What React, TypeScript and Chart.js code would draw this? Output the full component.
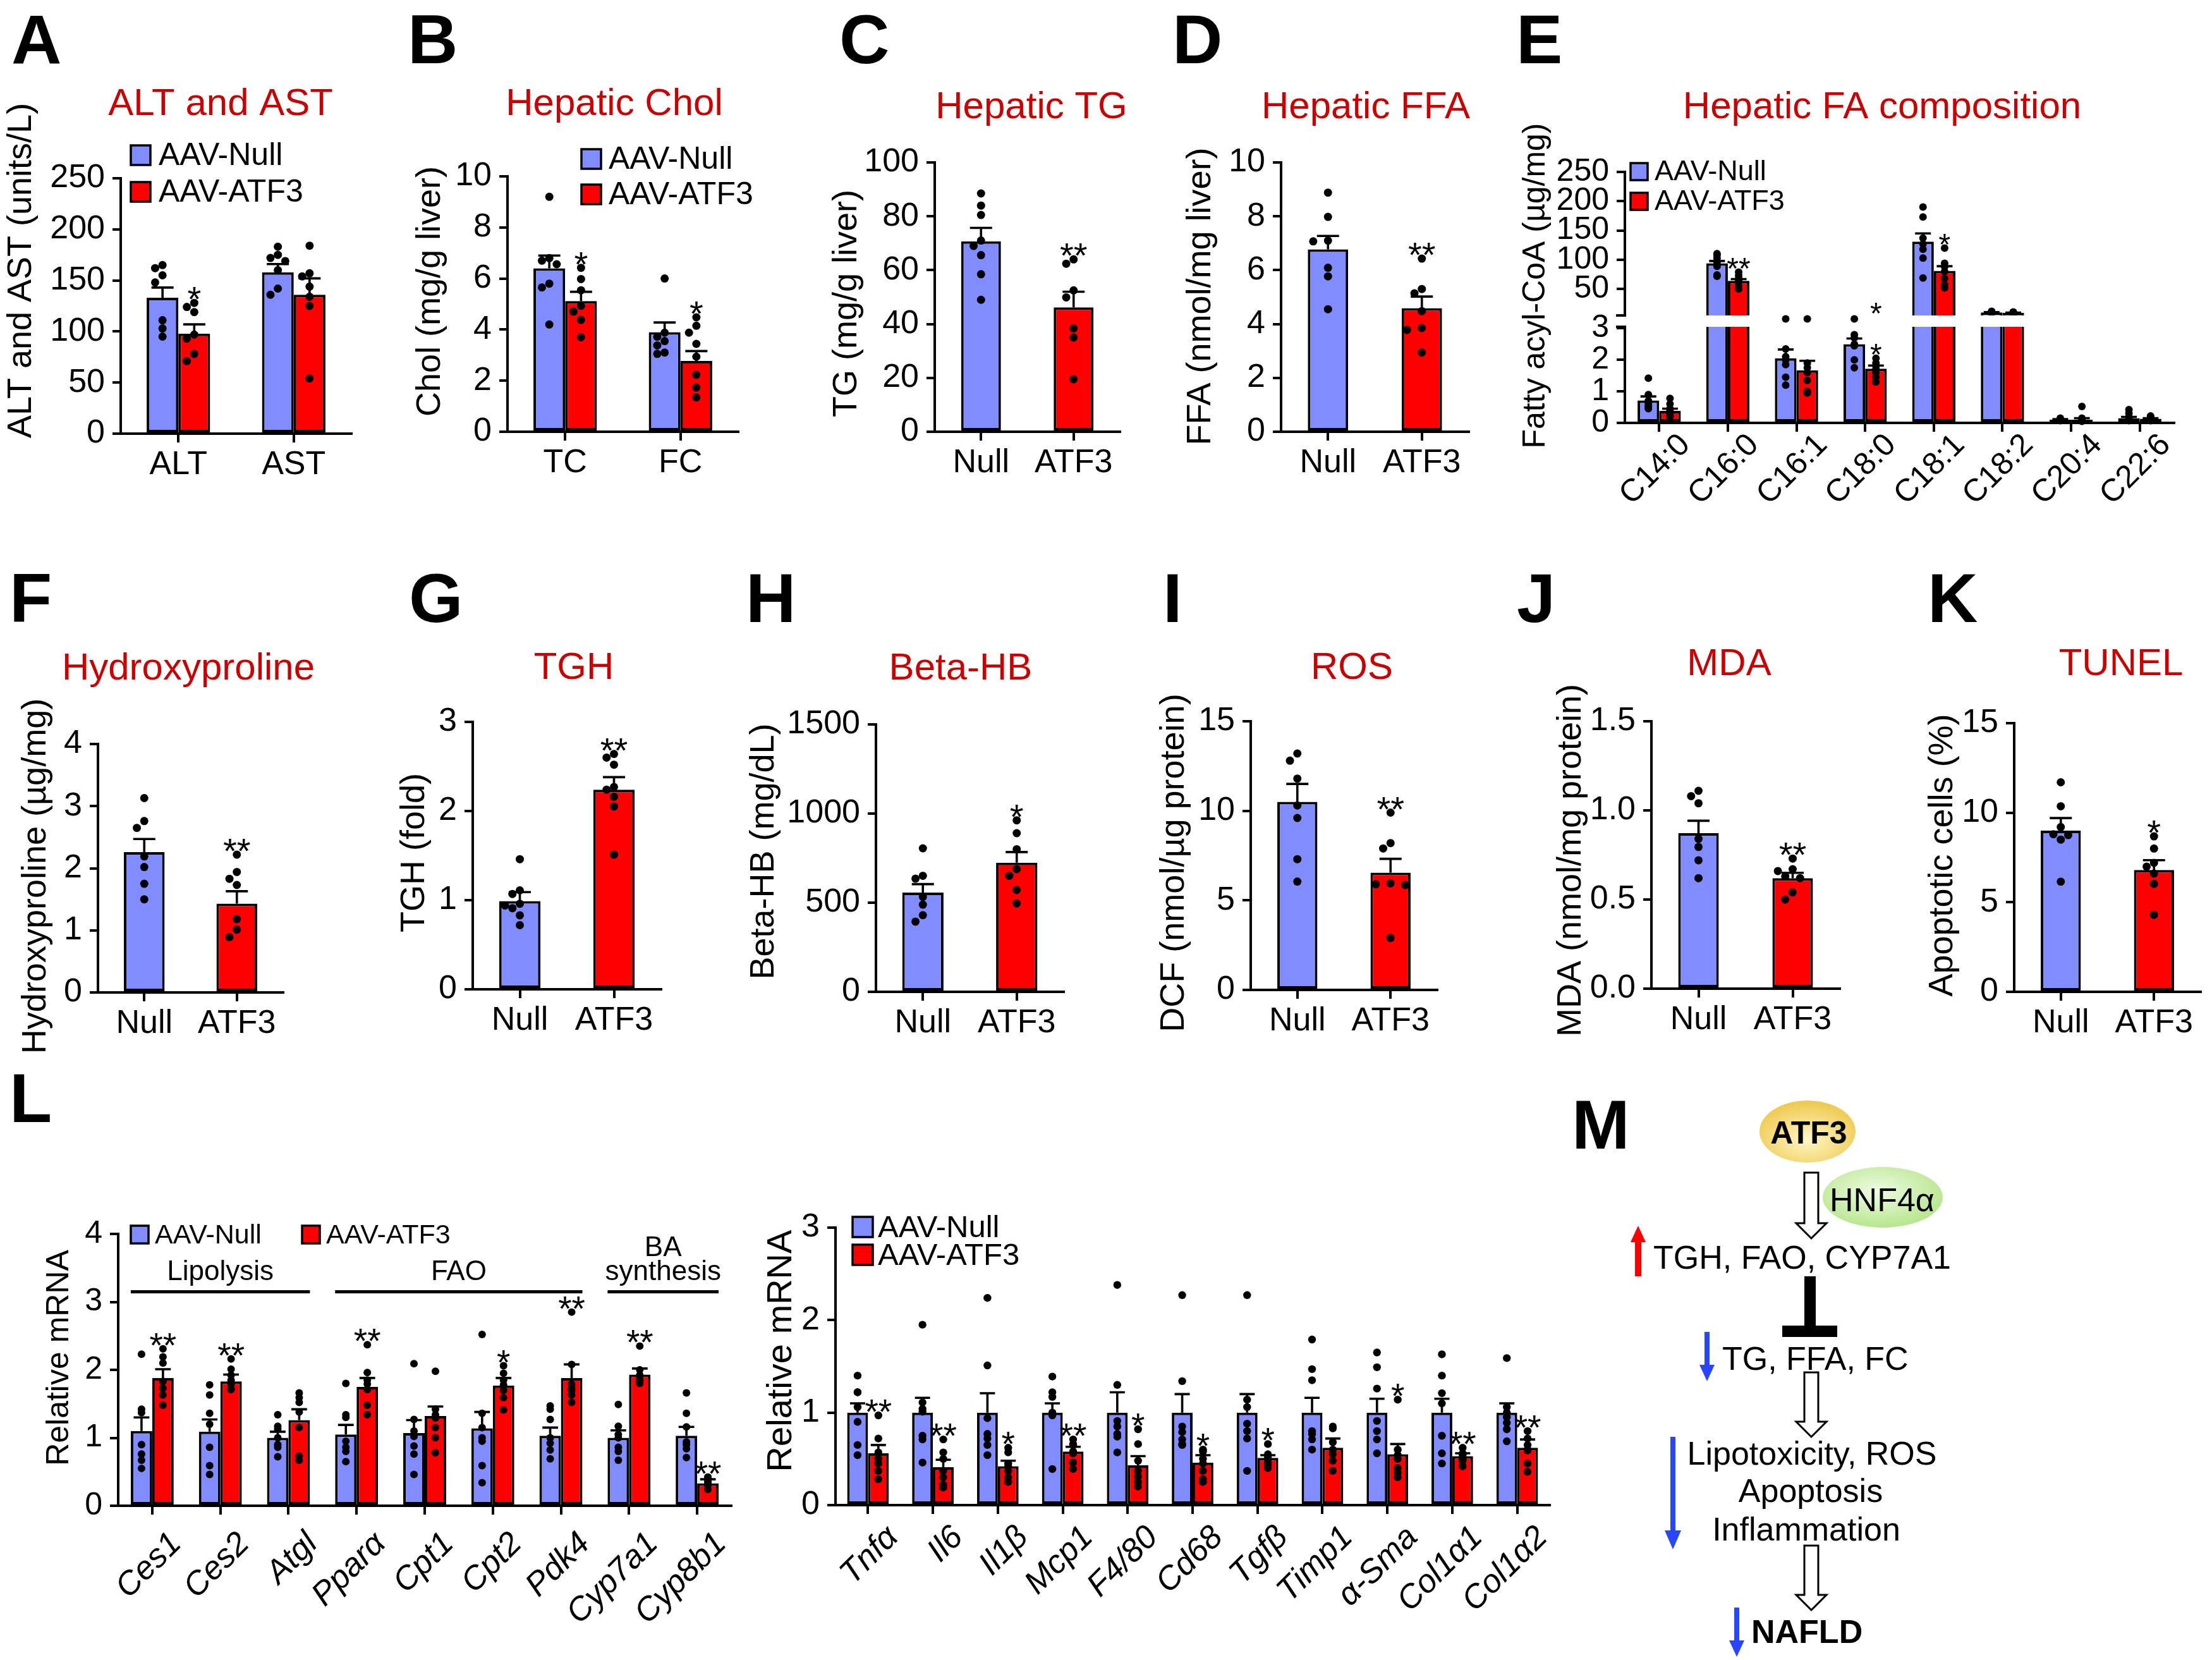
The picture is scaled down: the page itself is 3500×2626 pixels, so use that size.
import React, { useEffect, useRef } from 'react';
import { Chart, registerables } from 'chart.js';
Chart.register(...registerables);

const FONT = '"Liberation Sans", Arial, Helvetica, sans-serif';
const BLUE = 'rgb(128,140,255)';
const RED = 'rgb(255,0,0)';
const TITLE_RED = 'rgb(204,0,0)';
const NULL_LABEL = 'AAV-Null';
const ATF3_LABEL = 'AAV-ATF3';
const GROUP2 = ['Null', 'ATF3'];

// ---------- A: ALT and AST ----------
const A_CATS = ['ALT', 'AST'];
const A_NULL_MEAN = [133, 158];
const A_NULL_SEM = [10, 8];
const A_ATF3_MEAN = [98, 136];
const A_ATF3_SEM = [9, 16];
const A_NULL_PTS = [[165, 162, 155, 148, 111, 103, 95], [183, 175, 172, 169, 160, 142, 136]];
const A_ATF3_PTS = [[128, 124, 119, 97, 93, 78, 71], [184, 157, 154, 144, 134, 125, 54]];
const A_ATF3_SIG = ['*', ''];

// ---------- B: Hepatic Chol ----------
const B_CATS = ['TC', 'FC'];
const B_NULL_MEAN = [6.4, 3.9];
const B_NULL_SEM = [0.5, 0.38];
const B_ATF3_MEAN = [5.12, 2.77];
const B_ATF3_SEM = [0.36, 0.39];
const B_NULL_PTS = [[9.2, 6.8, 6.7, 6.56, 5.8, 5.65, 4.2], [6.0, 3.88, 3.72, 3.55, 3.38, 3.1, 3.05]];
const B_ATF3_PTS = [[6.42, 5.98, 5.54, 4.93, 4.7, 4.38, 3.7], [4.48, 4.15, 3.88, 3.44, 2.94, 2.23, 1.73, 1.34]];
const B_ATF3_SIG = ['*', '*'];

// ---------- C: Hepatic TG ----------
const C_MEAN = [70.7, 46.2];
const C_SEM = [5, 5.8];
const C_PTS = [[88.5, 84, 80.5, 71, 69, 65.6, 58.5, 49], [64, 62.4, 52.5, 49.9, 38.4, 35, 19.5]];
const C_SIG = ['', '**'];

// ---------- D: Hepatic FFA ----------
const D_MEAN = [6.77, 4.59];
const D_SEM = [0.5, 0.43];
const D_PTS = [[8.88, 7.98, 7.1, 7.07, 6.09, 5.77, 4.55], [6.43, 5.3, 5.14, 4.48, 3.85, 3.78, 2.94]];
const D_SIG = ['', '**'];

// ---------- E: Hepatic FA composition ----------
const E_CATS = ['C14:0', 'C16:0', 'C16:1', 'C18:0', 'C18:1', 'C18:2', 'C20:4', 'C22:6'];
const E_NULL_MEAN = [0.71, 94, 2.05, 2.5, 131, 10, 0.1, 0.15];
const E_NULL_SEM = [0.13, 4, 0.28, 0.18, 14, 0.5, 0.02, 0.04];
const E_ATF3_MEAN = [0.38, 64, 1.67, 1.72, 81, 9.5, 0.1, 0.13];
const E_ATF3_SEM = [0.07, 3, 0.3, 0.1, 8, 0.4, 0.05, 0.02];
const E_NULL_PTS = [
  [1.42, 0.9, 0.7, 0.62, 0.55, 0.5, 0.45],
  [110.5, 108, 103, 96, 89, 74, 72],
  [3.3, 2.35, 2.1, 2.0, 1.85, 1.45, 1.2],
  [3.3, 2.8, 2.7, 2.5, 2.45, 2.0, 1.75],
  [190, 173, 137, 127, 118, 103, 69],
  [12, 11.5, 11, 10.5, 10, 9.5, 9],
  [0.15, 0.12, 0.1, 0.1, 0.08, 0.08, 0.07],
  [0.42, 0.3, 0.18, 0.12, 0.1, 0.08, 0.07],
];
const E_ATF3_PTS = [
  [0.78, 0.6, 0.45, 0.38, 0.3, 0.25, 0.2],
  [79, 73, 68, 64, 62, 55, 50],
  [3.3, 1.9, 1.75, 1.6, 1.35, 1.0, 0.95],
  [2.05, 1.9, 1.8, 1.7, 1.6, 1.45, 1.3],
  [120, 94, 88, 80, 68, 57, 52],
  [11, 10.5, 10, 9.5, 9, 8.5, 8],
  [0.52, 0.15, 0.1, 0.08, 0.07, 0.06, 0.05],
  [0.22, 0.2, 0.15, 0.12, 0.1, 0.08, 0.07],
];
const E_NULL_SIG = ['', '', '', '', '', '', '', ''];
const E_ATF3_SIG = ['', '**', '', '*', '*', '', '', ''];

// ---------- F: Hydroxyproline ----------
const F_MEAN = [2.26, 1.43];
const F_SEM = [0.21, 0.2];
const F_PTS = [[3.13, 2.76, 2.65, 2.19, 2.02, 1.75, 1.5], [2.22, 1.94, 1.83, 1.73, 1.18, 1.01, 0.89]];
const F_SIG = ['', '**'];

// ---------- G: TGH ----------
const G_MEAN = [0.99, 2.24];
const G_SEM = [0.1, 0.14];
const G_PTS = [[1.46, 1.11, 1.07, 0.96, 0.94, 0.91, 0.83, 0.72], [2.64, 2.6, 2.52, 2.27, 2.24, 2.16, 2.05, 1.51]];
const G_SIG = ['', '**'];

// ---------- H: Beta-HB ----------
const H_MEAN = [557, 724];
const H_SEM = [47, 60];
const H_PTS = [[805, 651, 635, 533, 489, 430, 394], [962, 890, 800, 688, 651, 571, 496]];
const H_SIG = ['', '*'];

// ---------- I: ROS ----------
const I_MEAN = [10.5, 6.55];
const I_SEM = [1.0, 0.77];
const I_PTS = [[13.2, 12.8, 11.8, 10.3, 9.6, 7.3, 6.05], [9.9, 8.2, 7.9, 5.95, 5.9, 5.85, 2.9]];
const I_SIG = ['', '**'];

// ---------- J: MDA ----------
const J_MEAN = [0.872, 0.62];
const J_SEM = [0.07, 0.03];
const J_PTS = [[1.11, 1.08, 1.04, 0.84, 0.795, 0.72, 0.62], [0.73, 0.67, 0.66, 0.63, 0.62, 0.54, 0.5]];
const J_SIG = ['', '**'];

// ---------- K: TUNEL ----------
const K_MEAN = [9.0, 6.8];
const K_SEM = [0.7, 0.55];
const K_PTS = [[11.7, 10.36, 9.2, 8.8, 8.75, 8.5, 6.15], [8.68, 8.0, 7.2, 6.99, 6.6, 6.03, 4.3]];
const K_SIG = ['', '*'];

// ---------- L (left): lipid metabolism genes ----------
const L1_CATS = ['Ces1', 'Ces2', 'Atgl', 'Pparα', 'Cpt1', 'Cpt2', 'Pdk4', 'Cyp7a1', 'Cyp8b1'];
const L1_NULL_MEAN = [1.1, 1.09, 1.0, 1.05, 1.07, 1.14, 1.03, 1.0, 1.03];
const L1_NULL_SEM = [0.2, 0.18, 0.09, 0.14, 0.19, 0.24, 0.12, 0.11, 0.13];
const L1_ATF3_MEAN = [1.88, 1.83, 1.26, 1.75, 1.32, 1.77, 1.88, 1.93, 0.33];
const L1_ATF3_SEM = [0.13, 0.1, 0.16, 0.13, 0.14, 0.11, 0.2, 0.09, 0.06];
const L1_NULL_PTS = [
  [2.23, 1.42, 1.37, 0.9, 0.76, 0.67, 0.55],
  [1.78, 1.63, 1.36, 1.2, 0.86, 0.59, 0.46],
  [1.34, 1.17, 1.13, 1.0, 0.9, 0.86, 0.72],
  [1.8, 1.34, 1.3, 0.95, 0.86, 0.8, 0.65],
  [2.09, 1.27, 1.1, 1.02, 0.88, 0.76, 0.46],
  [2.52, 1.36, 1.15, 1.0, 0.95, 0.59, 0.34],
  [1.47, 1.42, 1.27, 1.0, 0.92, 0.82, 0.69],
  [1.49, 1.17, 1.05, 1.0, 0.86, 0.8, 0.67],
  [1.66, 1.36, 1.16, 0.94, 0.9, 0.84, 0.71],
];
const L1_ATF3_PTS = [
  [2.31, 2.19, 2.1, 1.83, 1.73, 1.63, 1.48],
  [2.16, 2.01, 1.92, 1.85, 1.79, 1.72, 1.71],
  [1.66, 1.59, 1.52, 1.38, 1.15, 0.73, 0.67],
  [2.37, 1.96, 1.85, 1.79, 1.71, 1.48, 1.34],
  [1.98, 1.42, 1.34, 1.29, 1.15, 1.0, 0.78],
  [2.06, 1.95, 1.85, 1.78, 1.7, 1.59, 1.41],
  [2.85, 2.08, 1.79, 1.73, 1.7, 1.63, 1.52],
  [2.35, 2.0, 1.92, 1.9, 1.85, 1.83, 1.8],
  [0.42, 0.42, 0.4, 0.36, 0.34, 0.3, 0.24],
];
const L1_NULL_SIG = ['', '', '', '', '', '', '', '', ''];
const L1_ATF3_SIG = ['**', '**', '', '**', '', '*', '**', '**', '**'];
const L1_GROUPS = [
  { text: ['Lipolysis'], from: 0, to: 2 },
  { text: ['FAO'], from: 3, to: 6 },
  { text: ['BA', 'synthesis'], from: 7, to: 8 },
];
const L1_GROUP_LEVEL = 3.15;

// ---------- L (right): inflammation / fibrosis genes ----------
const L2_CATS = ['Tnfα', 'Il6', 'Il1β', 'Mcp1', 'F4/80', 'Cd68', 'Tgfβ', 'Timp1', 'α-Sma', 'Col1α1', 'Col1α2'];
const L2_NULL_MEAN = [1, 1, 1, 1, 1, 1, 1, 1, 1, 1, 1];
const L2_NULL_SEM = [0.1, 0.16, 0.21, 0.1, 0.22, 0.2, 0.2, 0.16, 0.15, 0.15, 0.1];
const L2_ATF3_MEAN = [0.56, 0.41, 0.42, 0.58, 0.43, 0.46, 0.51, 0.62, 0.55, 0.53, 0.62];
const L2_ATF3_SEM = [0.09, 0.08, 0.06, 0.05, 0.1, 0.08, 0.03, 0.1, 0.11, 0.03, 0.09];
const L2_NULL_PTS = [
  [1.4, 1.22, 1.22, 1.06, 0.9, 0.65, 0.54],
  [1.95, 1.11, 1.04, 1.01, 0.75, 0.71, 0.46],
  [2.24, 1.51, 0.94, 0.77, 0.72, 0.65, 0.54],
  [1.39, 1.22, 1.17, 1.0, 0.98, 0.97, 0.39],
  [2.38, 1.3, 0.91, 0.85, 0.77, 0.74, 0.57],
  [2.27, 1.34, 0.85, 0.79, 0.71, 0.66, 0.65],
  [2.27, 1.14, 1.06, 0.88, 0.8, 0.72, 0.37],
  [1.79, 1.47, 1.35, 0.8, 0.77, 0.71, 0.6],
  [1.65, 1.49, 1.26, 0.91, 0.8, 0.71, 0.56],
  [1.63, 1.4, 1.21, 1.1, 0.75, 0.56, 0.45],
  [1.59, 1.06, 1.0, 0.95, 0.89, 0.82, 0.69],
];
const L2_ATF3_PTS = [
  [0.97, 0.72, 0.57, 0.5, 0.45, 0.37, 0.28],
  [0.71, 0.57, 0.5, 0.37, 0.3, 0.22, 0.19],
  [0.62, 0.57, 0.45, 0.42, 0.37, 0.3, 0.25],
  [0.71, 0.66, 0.65, 0.58, 0.56, 0.46, 0.39],
  [0.82, 0.66, 0.48, 0.37, 0.31, 0.25, 0.2],
  [0.6, 0.58, 0.5, 0.45, 0.37, 0.28, 0.25],
  [0.66, 0.55, 0.53, 0.5, 0.46, 0.43, 0.4],
  [0.85, 0.83, 0.68, 0.6, 0.55, 0.48, 0.37],
  [1.14, 0.6, 0.54, 0.5, 0.4, 0.35, 0.3],
  [0.62, 0.56, 0.54, 0.51, 0.5, 0.48, 0.42],
  [0.8, 0.72, 0.65, 0.6, 0.59, 0.45, 0.36],
];
const L2_NULL_SIG = ['', '', '', '', '', '', '', '', '', '', ''];
const L2_ATF3_SIG = ['**', '**', '*', '**', '*', '*', '*', '', '*', '**', '**'];

// ---------- types ----------
type Series = { label: string; mean: number[]; sem: number[]; pts: number[][]; sig: string[]; color: string | string[] };
type Legend = { pos: [number, number][]; box: number; gap: number; size: number };
type Cfg = {
  rect: [number, number, number, number];
  area: [number, number, number, number];
  cats: string[];
  series: Series[];
  yMin: number; yMax: number; step: number; dec?: number;
  catPct: number;
  hideX?: boolean;
  title?: [string, number, number];
  yTitle?: [string, number, number, number];
  legend?: Legend;
  tick: number; xFont: number; italic?: boolean; rot?: number; xOff?: number; xPad?: number;
  dotR: number; star: number; clipTop?: number; clipBottom?: number; barClip?: number;
  breakMark?: 'top' | 'bottom';
  groups?: { text: string[]; from: number; to: number }[]; groupVal?: number;
};

const single = (mean: number[], sem: number[], pts: number[][], sig: string[]): Series[] => [
  { label: '', mean, sem, pts, sig, color: [BLUE, RED] },
];
const pair = (nm: number[], ns: number[], np: number[][], nsig: string[], am: number[], as: number[], ap: number[][], asig: string[]): Series[] => [
  { label: NULL_LABEL, mean: nm, sem: ns, pts: np, sig: nsig, color: BLUE },
  { label: ATF3_LABEL, mean: am, sem: as, pts: ap, sig: asig, color: RED },
];

function makeDecor(cfg: Cfg) {
  return {
    id: 'decor',
    afterDatasetsDraw(chart: any) {
      const ctx: CanvasRenderingContext2D = chart.ctx;
      const ca = chart.chartArea;
      const ys = chart.scales.y;
      ctx.save();
      const top = ca.top - (cfg.clipTop ?? 4000);
      const bot = ca.bottom + (cfg.clipBottom ?? 4000);
      ctx.beginPath();
      ctx.rect(0, top, chart.width, bot - top);
      ctx.clip();
      cfg.series.forEach((s, di) => {
        const meta = chart.getDatasetMeta(di);
        meta.data.forEach((el: any, i: number) => {
          const x = el.x;
          const w = el.width;
          const m = s.mean[i];
          const e = s.sem[i];
          const yM = ys.getPixelForValue(m);
          const yE = ys.getPixelForValue(m + e);
          if (yE >= top && yE <= bot) {
            ctx.strokeStyle = '#000';
            ctx.lineWidth = 3.6;
            ctx.beginPath();
            ctx.moveTo(x, yM);
            ctx.lineTo(x, yE);
            const cw = Math.min(w * 0.73, 35) / 2;
            ctx.moveTo(x - cw, yE);
            ctx.lineTo(x + cw, yE);
            ctx.stroke();
          }
          const r = cfg.dotR;
          const vals = [...s.pts[i]].sort((a, b) => b - a);
          const placed: [number, number][] = [];
          const lim = Math.max(0, w / 2 - r * 1.2);
          const stp = r * 1.8;
          let topDot = Infinity;
          vals.forEach((v) => {
            const py = ys.getPixelForValue(v);
            const cands = [0, -stp, stp, -2 * stp, 2 * stp].filter((o) => Math.abs(o) <= lim + 0.1);
            let best = cands[0];
            let bestD = -1;
            for (const o of cands) {
              let dmin = Infinity;
              for (const [px2, py2] of placed) dmin = Math.min(dmin, Math.hypot(x + o - px2, py - py2));
              if (dmin >= 2 * r * 0.95) { best = o; break; }
              if (dmin > bestD) { bestD = dmin; best = o; }
            }
            placed.push([x + best, py]);
            topDot = Math.min(topDot, py - r);
          });
          ctx.fillStyle = '#000';
          placed.forEach(([px, py]) => {
            if (py < top || py > bot) return;
            ctx.beginPath();
            ctx.arc(px, py, r, 0, Math.PI * 2);
            ctx.fill();
          });
          if (s.sig[i]) {
            const tp = Math.min(topDot, yE - 2);
            ctx.font = `${cfg.star}px ${FONT}`;
            ctx.textAlign = 'center';
            ctx.textBaseline = 'alphabetic';
            ctx.fillText(s.sig[i], x, tp - 4 + 0.42 * cfg.star);
          }
        });
      });
      ctx.restore();
    },
    afterDraw(chart: any) {
      const ctx: CanvasRenderingContext2D = chart.ctx;
      const [ox, oy] = cfg.rect;
      const ys = chart.scales.y;
      const ca = chart.chartArea;
      ctx.save();
      if (cfg.breakMark) {
        const yb = cfg.breakMark === 'top' ? ca.top : ca.bottom;
        ctx.strokeStyle = '#000';
        ctx.lineWidth = 4;
        ctx.beginPath();
        ctx.moveTo(ca.left - 14, yb);
        ctx.lineTo(ca.left + 2, yb);
        ctx.stroke();
      }
      if (cfg.title) {
        const [t, x, y] = cfg.title;
        ctx.font = `60px ${FONT}`;
        ctx.fillStyle = TITLE_RED;
        ctx.textAlign = 'center';
        ctx.textBaseline = 'alphabetic';
        ctx.fillText(t, x - ox, y - oy);
      }
      if (cfg.yTitle) {
        const [t, x, y, sz] = cfg.yTitle;
        ctx.save();
        ctx.translate(x - ox, y - oy);
        ctx.rotate(-Math.PI / 2);
        ctx.font = `${sz}px ${FONT}`;
        ctx.fillStyle = '#000';
        ctx.textAlign = 'center';
        ctx.textBaseline = 'middle';
        ctx.fillText(t, 0, 0);
        ctx.restore();
      }
      if (cfg.legend) {
        const L = cfg.legend;
        cfg.series.forEach((s, i) => {
          const [lx, ly] = L.pos[i];
          const bx = lx - ox;
          const by = ly - oy - L.box;
          ctx.fillStyle = s.color as string;
          ctx.fillRect(bx, by, L.box, L.box);
          ctx.strokeStyle = '#000';
          ctx.lineWidth = 3.5;
          ctx.strokeRect(bx, by, L.box, L.box);
          ctx.fillStyle = '#000';
          ctx.font = `${L.size}px ${FONT}`;
          ctx.textAlign = 'left';
          ctx.textBaseline = 'alphabetic';
          ctx.fillText(s.label, bx + L.box + L.gap, ly - oy);
        });
      }
      if (cfg.groups && cfg.groupVal !== undefined) {
        const m0 = chart.getDatasetMeta(0);
        const m1 = chart.getDatasetMeta(1);
        const gy = ys.getPixelForValue(cfg.groupVal);
        ctx.strokeStyle = '#000';
        ctx.lineWidth = 5;
        ctx.fillStyle = '#000';
        ctx.font = `44px ${FONT}`;
        ctx.textAlign = 'center';
        ctx.textBaseline = 'alphabetic';
        cfg.groups.forEach((g) => {
          const a = m0.data[g.from];
          const b = m1.data[g.to];
          const x0 = a.x - a.width / 2;
          const x1 = b.x + b.width / 2;
          ctx.beginPath();
          ctx.moveTo(x0, gy);
          ctx.lineTo(x1, gy);
          ctx.stroke();
          const cx = (x0 + x1) / 2;
          g.text.forEach((t, k) => ctx.fillText(t, cx, gy - 18 - (g.text.length - 1 - k) * 38));
        });
      }
      ctx.restore();
    },
  };
}

function buildChart(canvas: HTMLCanvasElement, cfg: Cfg) {
  const [rx, ry, rw, rh] = cfg.rect;
  const [l, t, r, b] = cfg.area;
  const axisGrid = (len: number) => ({
    display: true, offset: false, drawOnChartArea: false, drawTicks: true,
    tickLength: len, tickWidth: 4, color: '#000', lineWidth: 4,
  });
  const border = { display: true, color: '#000', width: 4 };
  return new Chart(canvas, {
    type: 'bar',
    data: {
      labels: cfg.cats,
      datasets: cfg.series.map((s) => ({
        label: s.label,
        data: s.mean,
        backgroundColor: s.color as any,
        borderColor: '#000',
        borderWidth: 4,
        borderSkipped: false,
        categoryPercentage: cfg.catPct,
        barPercentage: 1,
        clip: cfg.barClip ?? 6,
      })),
    },
    options: {
      responsive: false,
      animation: false,
      devicePixelRatio: 1,
      events: [],
      layout: { padding: { left: 0, top: t - ry, right: rx + rw - r, bottom: cfg.hideX ? ry + rh - b : 0 } },
      plugins: { legend: { display: false }, tooltip: { enabled: false }, title: { display: false } },
      scales: {
        x: {
          display: !cfg.hideX,
          offset: true,
          grid: axisGrid(14),
          border,
          ticks: {
            color: '#000',
            font: { family: FONT, size: cfg.xFont, style: cfg.italic ? 'italic' : 'normal' },
            padding: cfg.xPad ?? 4,
            labelOffset: cfg.xOff ?? 0,
            autoSkip: false,
            maxRotation: cfg.rot ?? 0,
            minRotation: cfg.rot ?? 0,
          },
          afterFit: (s: any) => { s.height = cfg.hideX ? 0 : ry + rh - b; },
        },
        y: {
          min: cfg.yMin,
          max: cfg.yMax,
          grid: axisGrid(13),
          border,
          ticks: {
            color: '#000',
            font: { family: FONT, size: cfg.tick },
            padding: 12,
            autoSkip: false,
            callback: (v: any) => (cfg.dec ? Number(v).toFixed(cfg.dec) : String(v)),
          },
          afterBuildTicks: (s: any) => {
            const arr: { value: number }[] = [];
            const start = Math.ceil(cfg.yMin / cfg.step - 1e-9) * cfg.step;
            for (let v = start; v <= cfg.yMax + 1e-9; v += cfg.step) arr.push({ value: Math.round(v * 1e6) / 1e6 });
            s.ticks = arr;
          },
          afterFit: (s: any) => { s.width = l - rx; },
        },
      },
    } as any,
    plugins: [makeDecor(cfg) as any],
  });
}

// ---------- panel layouts ----------
const R1 = { tick: 52, xFont: 52, dotR: 6.5, star: 56 };

const PANELS: Cfg[] = [
  {
    ...R1, rect: [0, 100, 600, 720], area: [191, 282, 556, 686], cats: A_CATS,
    series: pair(A_NULL_MEAN, A_NULL_SEM, A_NULL_PTS, ['', ''], A_ATF3_MEAN, A_ATF3_SEM, A_ATF3_PTS, A_ATF3_SIG),
    yMin: 0, yMax: 250, step: 50, catPct: 0.55,
    title: ['ALT and AST', 349, 182], yTitle: ['ALT and AST (units/L)', 34, 428, 54],
    legend: { pos: [[207, 261], [207, 319]], box: 31, gap: 13, size: 50 },
  },
  {
    ...R1, rect: [620, 100, 630, 720], area: [803, 279, 1168, 683], cats: B_CATS,
    series: pair(B_NULL_MEAN, B_NULL_SEM, B_NULL_PTS, ['', ''], B_ATF3_MEAN, B_ATF3_SEM, B_ATF3_PTS, B_ATF3_SIG),
    yMin: 0, yMax: 10, step: 2, catPct: 0.55,
    title: ['Hepatic Chol', 972, 182], yTitle: ['Chol (mg/g liver)', 681, 461, 54],
    legend: { pos: [[920, 267], [920, 323]], box: 31, gap: 12, size: 50 },
  },
  {
    ...R1, rect: [1290, 100, 540, 720], area: [1479, 257, 1772, 683], cats: GROUP2,
    series: single(C_MEAN, C_SEM, C_PTS, C_SIG), yMin: 0, yMax: 100, step: 20, catPct: 0.43,
    title: ['Hepatic TG', 1632, 187], yTitle: ['TG (mg/g liver)', 1340, 480, 54],
  },
  {
    ...R1, rect: [1840, 100, 540, 720], area: [2027, 257, 2324, 683], cats: GROUP2,
    series: single(D_MEAN, D_SEM, D_PTS, D_SIG), yMin: 0, yMax: 10, step: 2, catPct: 0.43,
    title: ['Hepatic FFA', 2161, 187], yTitle: ['FFA (nmol/mg liver)', 1900, 469, 54],
  },
  {
    tick: 50, xFont: 48, rot: 45, dotR: 6, star: 48, clipBottom: 0, barClip: 0, breakMark: 'bottom',
    rect: [2390, 100, 1110, 720], area: [2571, 272, 3440, 499], cats: E_CATS, hideX: true,
    series: pair(E_NULL_MEAN, E_NULL_SEM, E_NULL_PTS, E_NULL_SIG, E_ATF3_MEAN, E_ATF3_SEM, E_ATF3_PTS, E_ATF3_SIG),
    yMin: 5, yMax: 250, step: 50, catPct: 0.63,
    title: ['Hepatic FA composition', 2978, 187], yTitle: ['Fatty acyl-CoA (µg/mg)', 2430, 452, 50],
    legend: { pos: [[2580, 285], [2580, 332]], box: 27, gap: 11, size: 45 },
  },
  {
    tick: 50, xFont: 50, rot: 45, xOff: 41, xPad: -8, dotR: 6, star: 48, clipTop: 22, barClip: 0, breakMark: 'top',
    rect: [2390, 100, 1110, 720], area: [2571, 517, 3440, 669], cats: E_CATS,
    series: pair(E_NULL_MEAN, E_NULL_SEM, E_NULL_PTS, E_NULL_SIG, E_ATF3_MEAN, E_ATF3_SEM, E_ATF3_PTS, E_ATF3_SIG),
    yMin: 0, yMax: 3.05, step: 1, catPct: 0.63,
  },
  {
    ...R1, rect: [0, 990, 600, 720], area: [155, 1177, 448, 1570], cats: GROUP2,
    series: single(F_MEAN, F_SEM, F_PTS, F_SIG), yMin: 0, yMax: 4, step: 1, catPct: 0.44,
    title: ['Hydroxyproline', 298, 1075], yTitle: ['Hydroxyproline (µg/mg)', 57, 1386, 54],
  },
  {
    ...R1, rect: [610, 990, 560, 720], area: [748, 1142, 1046, 1565], cats: GROUP2,
    series: single(G_MEAN, G_SEM, G_PTS, G_SIG), yMin: 0, yMax: 3, step: 1, catPct: 0.44,
    title: ['TGH', 908, 1074], yTitle: ['TGH (fold)', 656, 1349, 54],
  },
  {
    ...R1, rect: [1170, 990, 590, 720], area: [1386, 1146, 1683, 1569], cats: GROUP2,
    series: single(H_MEAN, H_SEM, H_PTS, H_SIG), yMin: 0, yMax: 1500, step: 500, catPct: 0.44,
    title: ['Beta-HB', 1520, 1075], yTitle: ['Beta-HB (mg/dL)', 1209, 1347, 54],
  },
  {
    ...R1, rect: [1770, 990, 620, 720], area: [1979, 1141, 2274, 1566], cats: GROUP2,
    series: single(I_MEAN, I_SEM, I_PTS, I_SIG), yMin: 0, yMax: 15, step: 5, catPct: 0.43,
    title: ['ROS', 2139, 1074], yTitle: ['DCF (nmol/µg protein)', 1858, 1365, 54],
  },
  {
    ...R1, rect: [2420, 990, 580, 720], area: [2613, 1141, 2911, 1564], cats: GROUP2,
    series: single(J_MEAN, J_SEM, J_PTS, J_SIG), yMin: 0, yMax: 1.5, step: 0.5, dec: 1, catPct: 0.43,
    title: ['MDA', 2736, 1068], yTitle: ['MDA (nmol/mg protein)', 2486, 1361, 54],
  },
  {
    ...R1, rect: [3010, 990, 490, 720], area: [3187, 1144, 3482, 1569], cats: GROUP2,
    series: single(K_MEAN, K_SEM, K_PTS, K_SIG), yMin: 0, yMax: 15, step: 5, catPct: 0.43,
    title: ['TUNEL', 3356, 1068], yTitle: ['Apoptotic cells (%)', 3074, 1353, 54],
  },
  {
    tick: 50, xFont: 52, italic: true, rot: 45, xOff: 38, xPad: 16, dotR: 6, star: 55,
    rect: [0, 1880, 1180, 746], area: [187, 1952, 1157, 2382], cats: L1_CATS,
    series: pair(L1_NULL_MEAN, L1_NULL_SEM, L1_NULL_PTS, L1_NULL_SIG, L1_ATF3_MEAN, L1_ATF3_SEM, L1_ATF3_PTS, L1_ATF3_SIG),
    yMin: 0, yMax: 4, step: 1, catPct: 0.63,
    yTitle: ['Relative mRNA', 94, 2148, 50],
    legend: { pos: [[207, 1967], [478, 1967]], box: 28, gap: 10, size: 43 },
    groups: L1_GROUPS, groupVal: L1_GROUP_LEVEL,
  },
  {
    tick: 52, xFont: 52, italic: true, rot: 45, xOff: 40, xPad: 7, dotR: 6.2, star: 55,
    rect: [1180, 1880, 1300, 746], area: [1322, 1942, 2452, 2381], cats: L2_CATS,
    series: pair(L2_NULL_MEAN, L2_NULL_SEM, L2_NULL_PTS, L2_NULL_SIG, L2_ATF3_MEAN, L2_ATF3_SEM, L2_ATF3_PTS, L2_ATF3_SIG),
    yMin: 0, yMax: 3, step: 1, catPct: 0.64,
    yTitle: ['Relative mRNA', 1237, 2137, 56],
    legend: { pos: [[1349, 1957], [1349, 2001]], box: 32, gap: 8, size: 49 },
  },
];

function ChartBox({ cfg }: { cfg: Cfg }) {
  const ref = useRef<HTMLCanvasElement>(null);
  useEffect(() => {
    const c = buildChart(ref.current as HTMLCanvasElement, cfg);
    return () => c.destroy();
  }, []);
  const [x, y, w, h] = cfg.rect;
  return <canvas ref={ref} width={w} height={h} style={{ position: 'absolute', left: x, top: y, width: w, height: h }} />;
}

const LETTERS: [string, number, number][] = [
  ['A', 18, 100], ['B', 645, 100], ['C', 1328, 100], ['D', 1855, 100], ['E', 2399, 100],
  ['F', 15, 984], ['G', 647, 984], ['H', 1180, 984], ['I', 1840, 984], ['J', 2400, 984], ['K', 3050, 984],
  ['L', 15, 1775], ['M', 2487, 1817],
];

function hollowArrow(cx: number, y0: number, y1: number) {
  const sw = 22, hw = 48, hh = 24;
  const pts = [
    [cx - sw / 2, y0], [cx + sw / 2, y0], [cx + sw / 2, y1 - hh], [cx + hw / 2, y1 - hh],
    [cx, y1], [cx - hw / 2, y1 - hh], [cx - sw / 2, y1 - hh],
  ];
  return <polygon points={pts.map((p) => p.join(',')).join(' ')} fill="#fff" stroke="#000" strokeWidth={3} />;
}

function solidArrow(cx: number, from: number, tip: number, color: string, shaft: number, hw: number, hh: number) {
  const dir = tip > from ? 1 : -1;
  const base = tip - dir * hh;
  return (
    <g>
      <rect x={cx - shaft / 2} y={Math.min(from, base)} width={shaft} height={Math.abs(base - from)} fill={color} />
      <polygon points={`${cx - hw / 2},${base} ${cx + hw / 2},${base} ${cx},${tip}`} fill={color} />
    </g>
  );
}

function Overlay() {
  const BL = 'rgb(40,70,255)';
  return (
    <svg width={3500} height={2626} style={{ position: 'absolute', left: 0, top: 0 }} fontFamily={FONT}>
      <defs>
        <radialGradient id="gy" cx="0.5" cy="0.62" r="0.6">
          <stop offset="0" stopColor="#FFF7C8" />
          <stop offset="1" stopColor="#EEC94E" />
        </radialGradient>
        <radialGradient id="gg" cx="0.45" cy="0.4" r="0.6">
          <stop offset="0" stopColor="#EEFBE2" />
          <stop offset="1" stopColor="#B7E68E" />
        </radialGradient>
      </defs>
      {LETTERS.map(([t, x, y]) => (
        <text key={t} x={x} y={y} fontSize={110} fontWeight={700} fill="#000">{t}</text>
      ))}
      <ellipse cx={2860} cy={1790} rx={76} ry={49} fill="url(#gy)" />
      <text x={2862} y={1809} fontSize={50} fontWeight={700} textAnchor="middle">ATF3</text>
      <ellipse cx={2979} cy={1894} rx={95} ry={48} fill="url(#gg)" />
      <text x={2978} y={1916} fontSize={52} textAnchor="middle">HNF4α</text>
      {hollowArrow(2866, 1855, 1959)}
      {solidArrow(2592, 2019, 1939, 'rgb(255,0,0)', 10, 24, 26)}
      <text x={2616} y={2007} fontSize={52}>TGH, FAO, CYP7A1</text>
      <rect x={2855} y={2019} width={18} height={80} fill="#000" />
      <rect x={2820} y={2097} width={87} height={18} fill="#000" />
      {solidArrow(2701, 2107, 2185, BL, 8, 24, 26)}
      <text x={2725} y={2167} fontSize={52}>TG, FFA, FC</text>
      {hollowArrow(2866, 2171, 2273)}
      {solidArrow(2647, 2273, 2451, BL, 8, 26, 30)}
      <text x={2867} y={2317} fontSize={52} textAnchor="middle">Lipotoxicity, ROS</text>
      <text x={2865} y={2376} fontSize={52} textAnchor="middle">Apoptosis</text>
      <text x={2858} y={2437} fontSize={52} textAnchor="middle">Inflammation</text>
      {hollowArrow(2866, 2445, 2547)}
      {solidArrow(2748, 2543, 2621, BL, 8, 24, 26)}
      <text x={2771} y={2599} fontSize={52} fontWeight={700}>NAFLD</text>
    </svg>
  );
}

export default function App() {
  return (
    <div style={{ position: 'absolute', left: 0, top: 0, width: 3500, height: 2626, background: '#fff', overflow: 'hidden' }}>
      <Overlay />
      {PANELS.map((p, i) => (
        <ChartBox key={i} cfg={p} />
      ))}
    </div>
  );
}
